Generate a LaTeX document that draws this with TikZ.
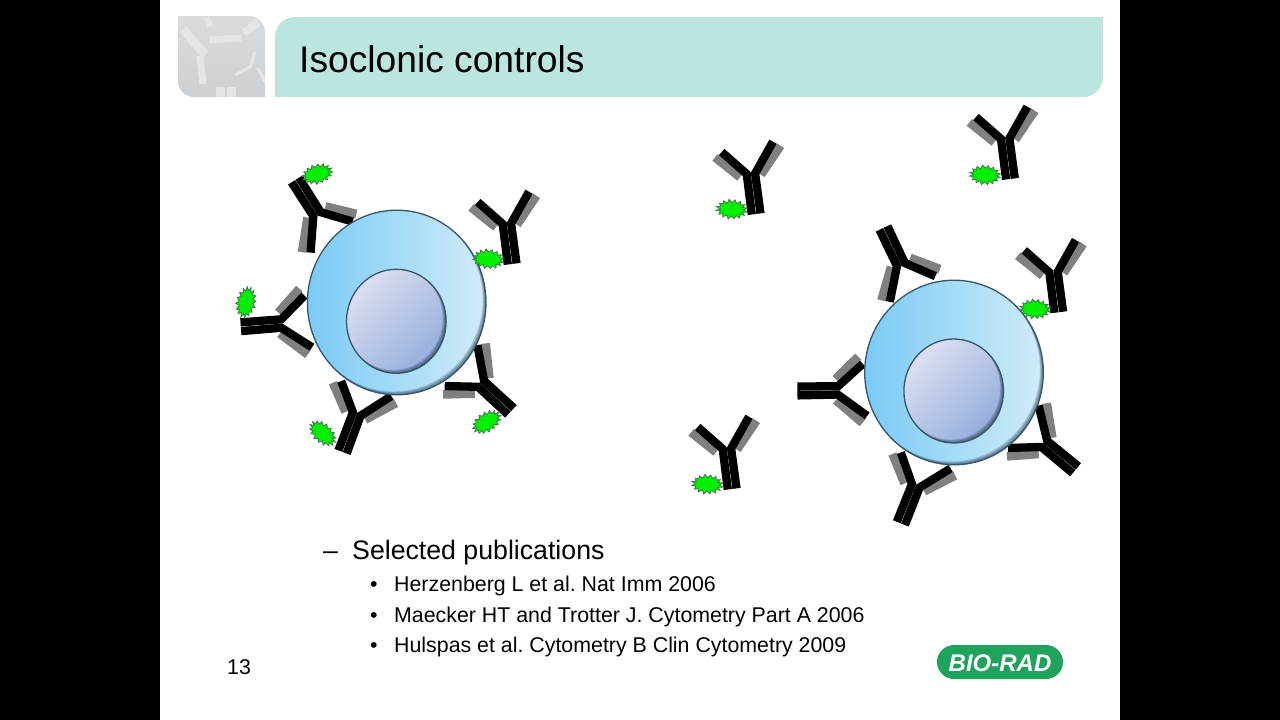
\documentclass[tikz,border=0pt]{standalone}
\usepackage{fontspec}
\setmainfont{Liberation Sans}
\definecolor{headerteal}{HTML}{BBE5DF}
\definecolor{cellleft}{HTML}{7ACAF5}
\definecolor{cellmid}{HTML}{A6DDF7}
\definecolor{cellright}{HTML}{D0ECF9}
\definecolor{rimline}{HTML}{36566A}
\definecolor{nucA}{HTML}{DCDFEF}
\definecolor{nucB}{HTML}{94AEDE}
\definecolor{shadowtone}{HTML}{1C2C44}
\definecolor{flagreen}{HTML}{00F000}
\definecolor{flaedge}{HTML}{3F7A4A}
\definecolor{armgrey}{HTML}{808080}
\definecolor{logogreen}{HTML}{1FA35C}
\definecolor{iconmark}{HTML}{E3E5E6}
\definecolor{icontop}{HTML}{D9DCDE}
\definecolor{iconbottom}{HTML}{CCD0D2}
\tikzset{
  strand/.style={line width=8.3pt,black,line join=miter,line cap=butt},
  greyband/.style={line width=8.6pt,armgrey,line cap=butt},
  iconline/.style={iconmark,line cap=butt},
  itemtext/.style={anchor=base west,inner sep=0pt,font=\frenchspacing\fontsize{21.35}{25}\selectfont},
  leadtext/.style={anchor=base west,inner sep=0pt,font=\fontsize{26.7}{30}\selectfont},
}
% antibody: junction x, junction y, clockwise rotation
\newcommand{\antibody}[3]{%
  \begin{scope}[shift={(#1,#2)},rotate=-#3]
    \draw[greyband] (-10.7,2.3) -- (-35.6,-17.6);
    \draw[greyband] (10.3,-0.3) -- (29.8,-29.3);
    \draw[strand] (-29,-23) -- (-4,-1) -- (1.1,39.5);
    \draw[strand] (22.3,-33.3) -- (4.4,-1.5) -- (9.8,38.4);
  \end{scope}}
% fluorochrome: centre x, centre y, clockwise rotation
\newcommand{\fluoro}[3]{%
  \begin{scope}[shift={(#1,#2)},rotate=-#3]
    \filldraw[fill=flagreen,draw=flaedge,line width=0.8pt,line join=miter]
      plot[domain=0:31,samples=32]
        ({(12+3.4*mod(\x,2)+0.4*sin(130*\x))*cos(\x*11.25)},
         {(6.6+3.2*mod(\x,2)+0.3*sin(95*\x))*sin(\x*11.25)}) -- cycle;
  \end{scope}}
% soft dark crescent along the lower right of an ellipse: centre x, y, radii x, y
\newcommand{\crescent}[4]{%
  \begin{scope}
    \clip (#1,#2) ellipse[x radius=#3,y radius=#4];
    \foreach \k in {1,...,6}
      \fill[shadowtone,opacity=0.13,even odd rule]
        ({#1-#3-10},{#2-#4-10}) rectangle ({#1+#3+10},{#2+#4+10})
        ({#1-\k*0.55},{#2-\k*0.55}) ellipse[x radius={#3-0.2},y radius={#4-0.2}];
  \end{scope}}
% cell: centre x, centre y of body, nucleus centre x, y
\newcommand{\cellbody}[4]{%
  \shade[left color=cellleft,middle color=cellmid,right color=cellright] (#1,#2) ellipse[x radius=89.3,y radius=92.3];
  \crescent{#1}{#2}{89.3}{92.3}
  \draw[rimline,line width=1.3pt] (#1,#2) ellipse[x radius=89.3,y radius=92.3];
  \shade[top color=nucA,bottom color=nucB,shading angle=45] (#3,#4) ellipse[x radius=49.8,y radius=52];
  \crescent{#3}{#4}{49.8}{52}
  \draw[rimline,line width=1.3pt] (#3,#4) ellipse[x radius=49.8,y radius=52];}
\begin{document}
\begin{tikzpicture}[x=1pt,y=-1pt]
\useasboundingbox (0,0) rectangle (1280,720);
\fill[white] (0,0) rectangle (1280,720);
\fill[black] (0,0) rectangle (160,720);
\fill[black] (1120,0) rectangle (1280,720);

% corner icon
\begin{scope}
  \clip (178,16) -- (249,16) arc[start angle=270,end angle=360,radius=16] -- (265,97)
        -- (194,97) arc[start angle=90,end angle=180,radius=16] -- cycle;
  \shade[top color=icontop,bottom color=iconbottom] (178,16) rectangle (265,97);
  \draw[iconline,line width=9pt] (183,29) -- (205,55);
  \draw[iconline,line width=7pt] (209,40) -- (241,38);
  \draw[iconline,line width=7pt] (200,56) -- (203,84);
  \draw[iconline,line width=6pt] (207,17) -- (210,27);
  \draw[iconline,line width=8pt] (244,33) -- (258,22);
  \draw[iconline,line width=3pt] (235,75) -- (250,67) -- (255,52);
  \draw[iconline,line width=3pt] (258,68) -- (265,82);
  \draw[iconline,line width=9pt] (220,87) -- (220,97);
  \draw[iconline,line width=9pt] (231,87) -- (231,97);
\end{scope}

% title bar
\fill[headerteal] (275,97) -- (275,37) arc[start angle=180,end angle=270,radius=20]
  -- (1103,17) -- (1103,77) arc[start angle=0,end angle=90,radius=20] -- cycle;
\node[anchor=base west,inner sep=0pt,font=\fontsize{37.2}{40}\selectfont] (title) at (299,72) {Isoclonic controls};

% antibodies on and around the left cell
\antibody{316.7}{213}{155}
\antibody{506.7}{225}{0}
\antibody{481.7}{385}{-40}
\antibody{356}{415}{28}
\antibody{280}{323.3}{93}
% antibodies on and around the right cell
\antibody{900.7}{263.3}{162}
\antibody{1053.3}{273.3}{0}
\antibody{836.7}{390}{96.5}
\antibody{915}{486.7}{29}
\antibody{1045}{445}{-43}
% unbound antibodies
\antibody{750.7}{175}{0}
\antibody{1005}{140}{0}
\antibody{726.7}{450}{0}

\cellbody{396.7}{302.5}{396.3}{321.3}
\cellbody{954}{372.5}{953.7}{391}

% fluorochromes
\fluoro{317.3}{174}{-15}
\fluoro{488.3}{259}{5}
\fluoro{246}{302.3}{-78}
\fluoro{322.7}{433.3}{42}
\fluoro{486.7}{422}{-32}
\fluoro{731.7}{209.3}{3}
\fluoro{985}{175}{3}
\fluoro{707.3}{484.3}{3}
\fluoro{1035}{309}{3}

% text block
\node[leadtext] (dash) at (323,559) {–};
\node[leadtext] (selected) at (352,559) {Selected publications};
\node[itemtext] (b1) at (370,591) {•};
\node[itemtext] (ref1) at (394,591) {Herzenberg L et al. Nat Imm 2006};
\node[itemtext] (b2) at (370,622) {•};
\node[itemtext] (ref2) at (394,622) {Maecker HT and Trotter J. Cytometry Part A 2006};
\node[itemtext] (b3) at (370,652) {•};
\node[itemtext] (ref3) at (394,652) {Hulspas et al. Cytometry B Clin Cytometry 2009};
\node[itemtext] (page) at (227,674) {13};

% company badge
\fill[logogreen,rounded corners=17pt] (937,645) rectangle (1063,679);
\node[anchor=center,inner sep=0pt,text=white,font=\fontsize{24}{28}\bfseries\itshape\selectfont] (brand) at (1000,663) {BIO-RAD};
\end{tikzpicture}
\end{document}
